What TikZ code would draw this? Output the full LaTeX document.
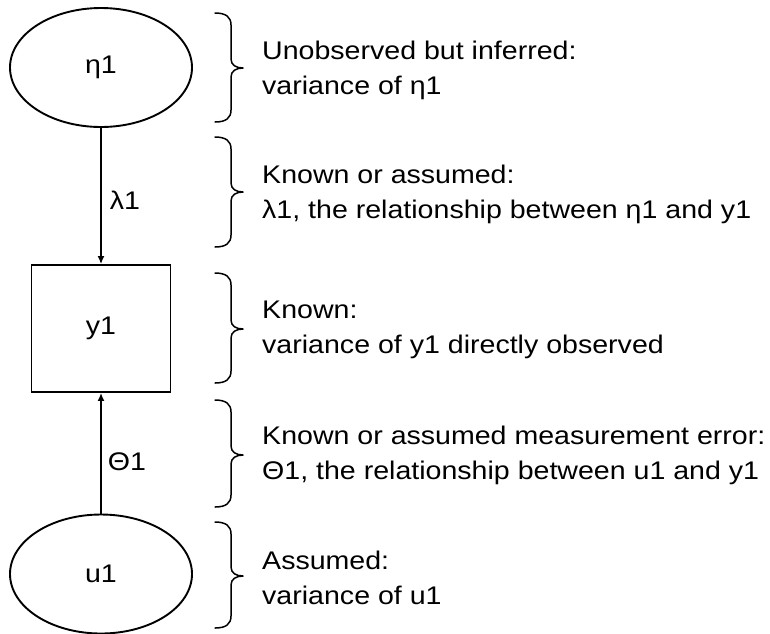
\documentclass[tikz,border=0pt]{standalone}
\usepackage{fontspec}
\setmainfont{Liberation Sans}[FakeStretch=1.12]
\usetikzlibrary{shapes.geometric,arrows.meta}

\tikzset{
  latent/.style={draw, ellipse, line width=1.9pt, minimum width=182pt, minimum height=119pt, inner sep=0pt},
  observed/.style={draw, rectangle, line width=1.9pt, minimum width=139pt, minimum height=127pt, inner sep=0pt},
  link/.style={line width=1.5pt, -{Latex[length=8pt,width=7pt]}},
  coef/.style={inner sep=0pt},
  note/.style={anchor=west, align=left, inner sep=0pt},
  bracestroke/.style={line width=1.5pt, line cap=round, line join=round},
}

% curly brace at x = 215 with its tip pointing right: #1 top, #2 tip, #3 bottom
\newcommand\curlybrace[3]{%
  \draw[bracestroke] (215,#1) .. controls (226,#1) and (231,#1+4) .. (231,#1+12)
    -- (231,#2-9) .. controls (231,#2-3) and (236,#2) .. (243,#2)
    .. controls (236,#2) and (231,#2+3) .. (231,#2+9)
    -- (231,#3-12) .. controls (231,#3-4) and (226,#3) .. (215,#3);}

\begin{document}
\begin{tikzpicture}[x=1pt, y=-1pt, font=\fontsize{25.5}{35}\selectfont]
\useasboundingbox (0,0) rectangle (770,633);

% model
\node[latent]   (eta) at (101,67.5) {η1};
\node[observed] (y)   at (101,328.5) {y1};
\node[latent]   (u)   at (101,574) {u1};

\draw[link] (eta) -- (y);
\draw[link] (u) -- (y);

\node[coef] (lam)   at (125,200) {λ1};
\node[coef] (theta) at (127,462) {Θ1};

% annotations
\curlybrace{13}{68}{122}
\curlybrace{137}{192}{247}
\curlybrace{273}{329}{383}
\curlybrace{400}{455}{507}
\curlybrace{522}{576}{628}

\node[note] (n1) at (262,70.5) {Unobserved but inferred:\\variance of η1};
\node[note] (n2) at (262,194.5) {Known or assumed:\\λ1, the relationship between η1 and y1};
\node[note] (n3) at (262,330) {Known:\\variance of y1 directly observed};
\node[note] (n4) at (262,455) {Known or assumed measurement error:\\Θ1, the relationship between u1 and y1};
\node[note] (n5) at (262,577.5) {Assumed:\\variance of u1};
\end{tikzpicture}
\end{document}
